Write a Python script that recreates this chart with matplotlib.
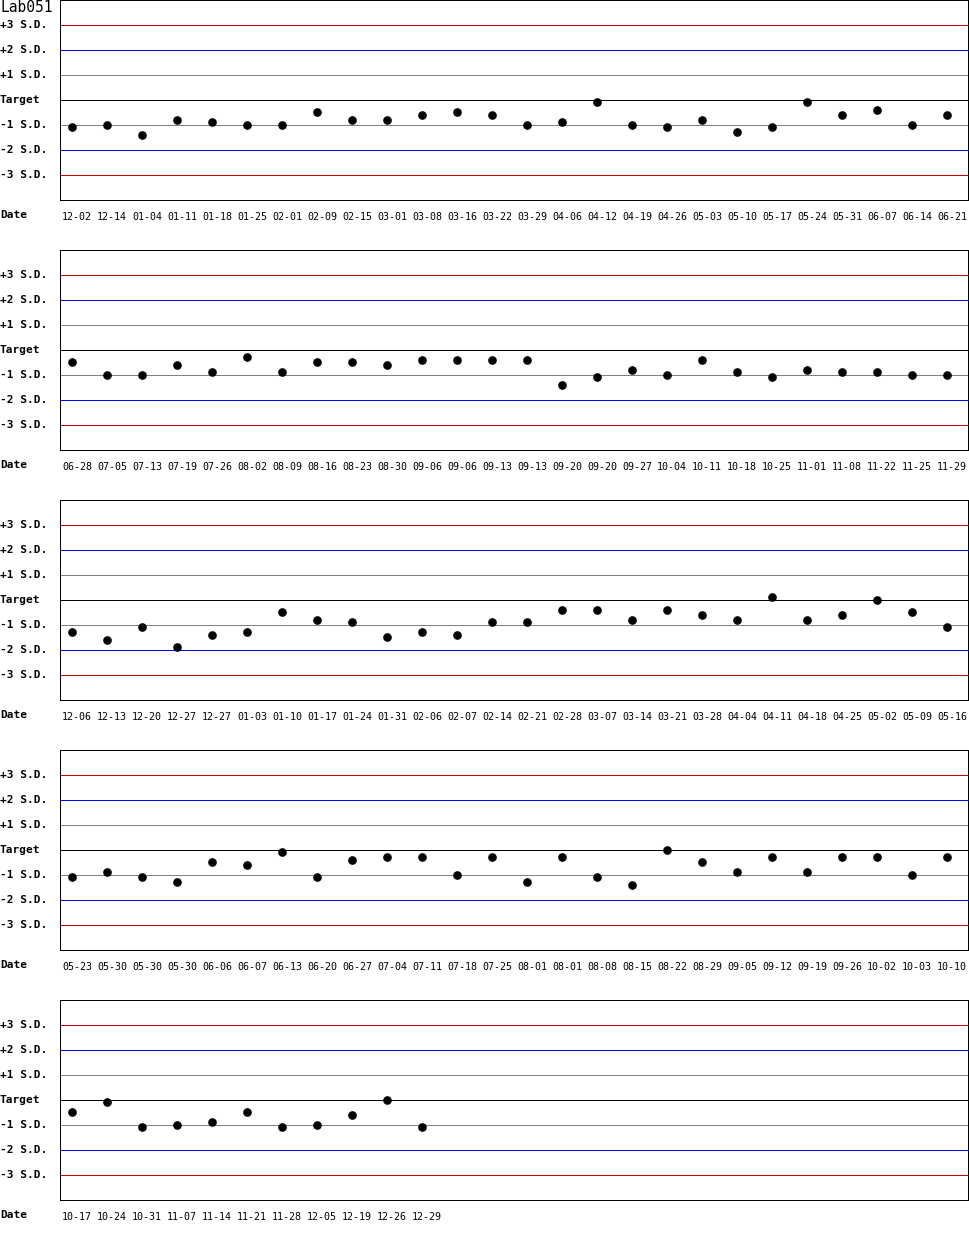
import matplotlib
matplotlib.use("Agg")
import matplotlib.pyplot as plt
from matplotlib import transforms

# QC chart for Lab051, values in S.D. units from target
title = "Lab051"

dates_1 = ["12-02", "12-14", "01-04", "01-11", "01-18", "01-25", "02-01", "02-09", "02-15",
           "03-01", "03-08", "03-16", "03-22", "03-29", "04-06", "04-12", "04-19", "04-26",
           "05-03", "05-10", "05-17", "05-24", "05-31", "06-07", "06-14", "06-21"]
values_1 = [-1.09, -1.0, -1.41, -0.81, -0.89, -1.0, -1.0, -0.49, -0.81, -0.81, -0.61, -0.49,
            -0.61, -1.0, -0.89, -0.08, -1.0, -1.09, -0.81, -1.29, -1.09, -0.08, -0.61, -0.41,
            -1.0, -0.61]

dates_2 = ["06-28", "07-05", "07-13", "07-19", "07-26", "08-02", "08-09", "08-16", "08-23",
           "08-30", "09-06", "09-06", "09-13", "09-13", "09-20", "09-20", "09-27", "10-04",
           "10-11", "10-18", "10-25", "11-01", "11-08", "11-22", "11-25", "11-29"]
values_2 = [-0.48, -1.0, -1.0, -0.6, -0.88, -0.28, -0.88, -0.48, -0.48, -0.6, -0.4, -0.4,
            -0.4, -0.4, -1.4, -1.08, -0.8, -1.0, -0.4, -0.88, -1.08, -0.8, -0.88, -0.88,
            -1.0, -1.0]

dates_3 = ["12-06", "12-13", "12-20", "12-27", "12-27", "01-03", "01-10", "01-17", "01-24",
           "01-31", "02-06", "02-07", "02-14", "02-21", "02-28", "03-07", "03-14", "03-21",
           "03-28", "04-04", "04-11", "04-18", "04-25", "05-02", "05-09", "05-16"]
values_3 = [-1.28, -1.6, -1.08, -1.88, -1.4, -1.28, -0.48, -0.8, -0.88, -1.48, -1.28, -1.4,
            -0.88, -0.88, -0.4, -0.4, -0.8, -0.4, -0.6, -0.8, 0.12, -0.8, -0.6, 0.0,
            -0.48, -1.08]

dates_4 = ["05-23", "05-30", "05-30", "05-30", "06-06", "06-07", "06-13", "06-20", "06-27",
           "07-04", "07-11", "07-18", "07-25", "08-01", "08-01", "08-08", "08-15", "08-22",
           "08-29", "09-05", "09-12", "09-19", "09-26", "10-02", "10-03", "10-10"]
values_4 = [-1.08, -0.88, -1.08, -1.28, -0.48, -0.6, -0.08, -1.08, -0.4, -0.28, -0.28, -1.0,
            -0.28, -1.28, -0.28, -1.08, -1.4, 0.0, -0.48, -0.88, -0.28, -0.88, -0.28, -0.28,
            -1.0, -0.28]

dates_5 = ["10-17", "10-24", "10-31", "11-07", "11-14", "11-21", "11-28", "12-05", "12-19",
           "12-26", "12-29"]
values_5 = [-0.48, -0.08, -1.08, -1.0, -0.88, -0.48, -1.08, -1.0, -0.6, 0.0, -1.08]

sd_levels = [3, 2, 1, 0, -1, -2, -3]
sd_labels = ["+3 S.D.", "+2 S.D.", "+1 S.D.", "Target", "-1 S.D.", "-2 S.D.", "-3 S.D."]
sd_colors = ["#cc0000", "#0000ff", "#808080", "#000000", "#808080", "#0000ff", "#cc0000"]

panels = [(dates_1, values_1), (dates_2, values_2), (dates_3, values_3),
          (dates_4, values_4), (dates_5, values_5)]

W, H = 970, 1250
fig = plt.figure(figsize=(W / 100, H / 100), dpi=100)
mono = "DejaVu Sans Mono"
px = 0.72  # one pixel in points

for k, (dates, vals) in enumerate(panels):
    top = 250 * k
    ax = fig.add_axes([60 / W, 1 - (top + 200) / H, 908 / W, 200 / H])
    ax.set_xlim(-12 / 35, 896 / 35)
    ax.set_ylim(-4, 4)
    for lvl, col in zip(sd_levels, sd_colors):
        ax.axhline(lvl, color=col, lw=px, antialiased=False, zorder=1)
    ax.plot(range(len(vals)), vals, "o", color="black", ms=5.2, zorder=3)
    ax.set_xticks([])
    ax.set_yticks([])
    for s in ax.spines.values():
        s.set_linewidth(px)
        s.set_color("black")
        s.set_antialiased(False)

    left_tr = transforms.blended_transform_factory(ax.transAxes, ax.transData)
    for lvl, lab in zip(sd_levels, sd_labels):
        ax.text(-60 / 908, lvl, lab, transform=left_tr, ha="left", va="center",
                family=mono, fontsize=8, fontweight="bold")
    ax.text(-60 / 908, -0.075, "Date", transform=ax.transAxes, ha="left", va="center",
            family=mono, fontsize=8, fontweight="bold")

    date_tr = transforms.blended_transform_factory(ax.transData, ax.transAxes)
    date_tr = transforms.offset_copy(date_tr, fig=fig, x=5, y=0, units="dots")
    for i, d in enumerate(dates):
        ax.text(i, -0.085, d, transform=date_tr, ha="center", va="center",
                family=mono, fontsize=7.2)

fig.text(0, 1 - 8 / H, title, ha="left", va="center", family=mono, fontsize=10.5)

fig.savefig("out.png", dpi=100)
